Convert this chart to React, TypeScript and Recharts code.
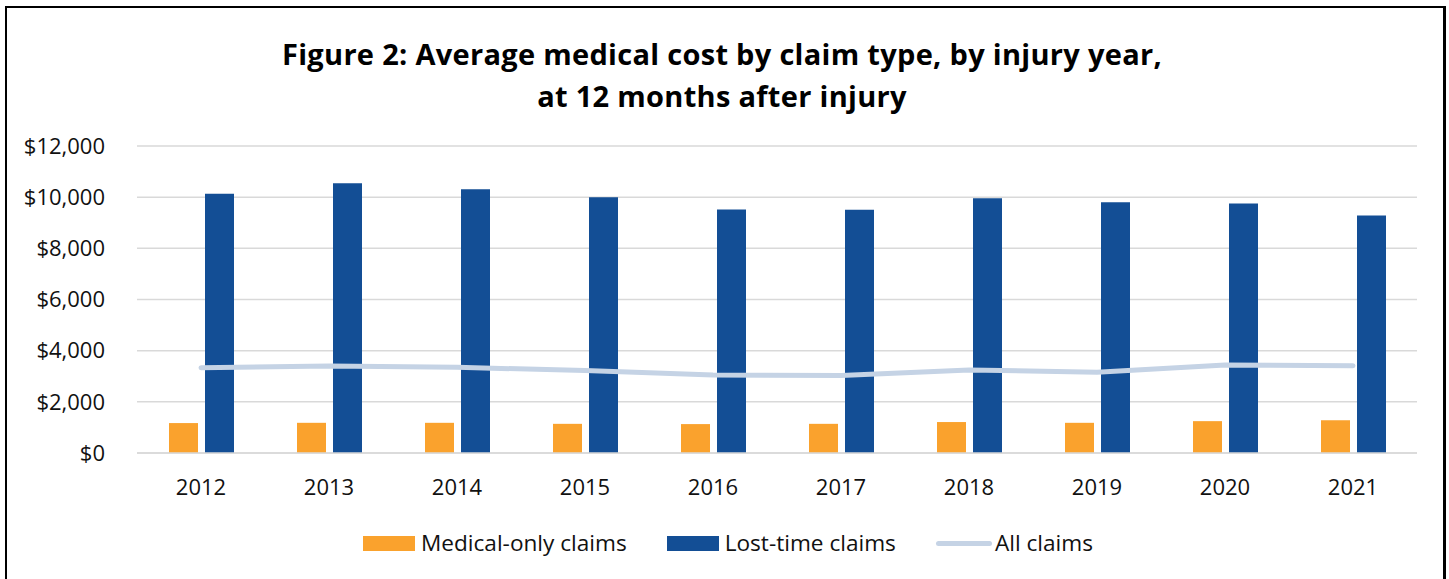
import {
  ComposedChart,
  Bar,
  Line,
  XAxis,
  YAxis,
  CartesianGrid,
} from 'recharts';

const years = ['2012', '2013', '2014', '2015', '2016', '2017', '2018', '2019', '2020', '2021'];
const medicalOnly = [1170, 1180, 1180, 1140, 1130, 1140, 1210, 1180, 1245, 1285];
const lostTime = [10130, 10540, 10310, 10000, 9520, 9505, 9960, 9800, 9750, 9285];
const allClaims = [3335, 3400, 3350, 3220, 3050, 3025, 3245, 3155, 3440, 3410];
const yTicks = [0, 2000, 4000, 6000, 8000, 10000, 12000];

const ORANGE = '#faa22d';
const BLUE = '#134e95';
const LIGHT = '#c5d3e5';
const FONT = '"Open Sans", "Noto Sans", sans-serif';

const data = years.map((year, i) => ({
  year,
  medical: medicalOnly[i],
  lost: lostTime[i],
  all: allClaims[i],
}));

const legendItems = [
  { label: 'Medical-only claims', color: ORANGE, kind: 'box' },
  { label: 'Lost-time claims', color: BLUE, kind: 'box' },
  { label: 'All claims', color: LIGHT, kind: 'line' },
];

function ChartLegend() {
  return (
    <div
      style={{
        position: 'absolute',
        top: 528,
        left: 363,
        display: 'flex',
        fontFamily: FONT,
        fontSize: 22.6,
        color: '#111',
      }}
    >
      {legendItems.map((item) => (
        <div key={item.label} style={{ display: 'flex', alignItems: 'center', marginRight: 40 }}>
          {item.kind === 'box' ? (
            <span style={{ width: 52, height: 15, background: item.color, marginRight: 6 }} />
          ) : (
            <span style={{ width: 56, height: 5, borderRadius: 3, background: item.color, marginRight: 3 }} />
          )}
          <span style={{ lineHeight: '30px', whiteSpace: 'nowrap' }}>{item.label}</span>
        </div>
      ))}
    </div>
  );
}

export default function App() {
  return (
    <div
      style={{
        position: 'absolute',
        left: 0,
        top: 0,
        width: 1449,
        height: 579,
        overflow: 'hidden',
        background: '#fff',
      }}
    >
      <div
        style={{
          position: 'absolute',
          left: 5,
          top: 6,
          width: 1436,
          height: 620,
          borderLeft: '2px solid #000',
          borderTop: '2px solid #000',
          borderRight: '3px solid #000',
        }}
      />
      <div
        style={{
          position: 'absolute',
          top: 33,
          left: 0,
          width: 1444,
          textAlign: 'center',
          fontFamily: FONT,
          fontWeight: 700,
          fontSize: 29,
          letterSpacing: 0.3,
          lineHeight: '42px',
          color: '#000',
        }}
      >
        Figure 2: Average medical cost by claim type, by injury year,
        <br />
        at 12 months after injury
      </div>
      <div style={{ position: 'absolute', left: 0, top: 0 }}>
        <ComposedChart
          width={1449}
          height={579}
          data={data}
          margin={{ top: 146, right: 32, bottom: 96, left: 17 }}
          barGap={7}
        >
          <CartesianGrid vertical={false} stroke="#d9d9d9" strokeWidth={1.5} />
          <XAxis
            dataKey="year"
            tickLine={false}
            axisLine={{ stroke: '#d9d9d9', strokeWidth: 1.5 }}
            tick={{ fill: '#111', fontSize: 22, fontFamily: FONT }}
            tickSize={0}
            tickMargin={26}
            interval={0}
          />
          <YAxis
            width={120}
            domain={[0, 12000]}
            ticks={yTicks}
            axisLine={false}
            tickLine={false}
            tickSize={0}
            tickMargin={32}
            tick={{ fill: '#111', fontSize: 22, fontFamily: FONT }}
            tickFormatter={(v: number) => `$${v.toLocaleString('en-US')}`}
          />
          <Bar dataKey="medical" fill={ORANGE} barSize={29} isAnimationActive={false} />
          <Bar dataKey="lost" fill={BLUE} barSize={29} isAnimationActive={false} />
          <Line
            type="linear"
            dataKey="all"
            stroke={LIGHT}
            strokeWidth={5}
            strokeLinecap="round"
            dot={false}
            activeDot={false}
            isAnimationActive={false}
          />
        </ComposedChart>
      </div>
      <ChartLegend />
    </div>
  );
}
